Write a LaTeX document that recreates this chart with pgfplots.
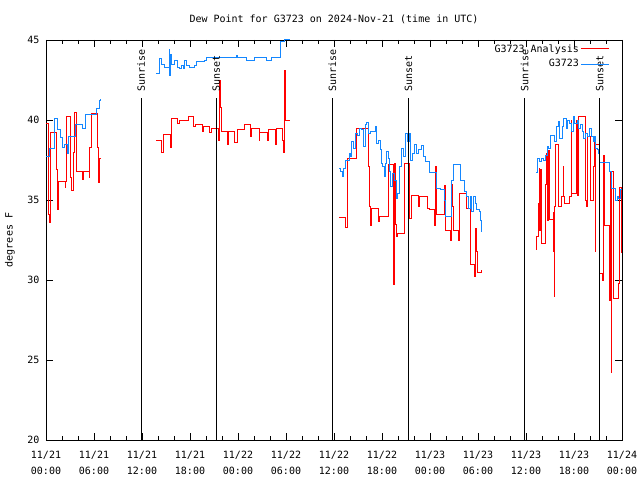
\documentclass[border=0pt]{standalone}
\usepackage{fontspec}
\setmainfont{DejaVu Sans Mono}
\usepackage{pgfplots}
\pgfplotsset{compat=1.18}
\definecolor{gred}{RGB}{255,0,0}
\definecolor{gblue}{RGB}{20,135,255}
\begin{document}
\begin{tikzpicture}[font=\fontsize{10}{12}\selectfont]
\path[use as bounding box] (-46pt,-40pt) rectangle (594pt,440pt);
\begin{axis}[
  scale only axis, width=576pt, height=400pt,
  at={(0pt,0pt)}, anchor=south west,
  xmin=0, xmax=72, ymin=20, ymax=45,
  xtick={0,6,...,72},
  xticklabels={{11/21\\00:00},{11/21\\06:00},{11/21\\12:00},{11/21\\18:00},{11/22\\00:00},{11/22\\06:00},{11/22\\12:00},{11/22\\18:00},{11/23\\00:00},{11/23\\06:00},{11/23\\12:00},{11/23\\18:00},{11/24\\00:00}},
  xticklabel style={align=center, yshift=-8pt, font=\fontsize{10}{16}\selectfont},
  yticklabel style={xshift=-3pt},
  minor x tick num=2,
  ytick={20,25,...,45},
  /pgf/number format/assume math mode=true,
  major tick length=7pt, minor tick length=4pt,
  tick style={black, line width=0.7pt},
  axis line style={line width=0.8pt},
  title={Dew Point for G3723 on 2024-Nov-21 (time in UTC)},
  title style={at={(axis description cs:0.5,1)}, anchor=center, yshift=15pt},
  ylabel={degrees F},
  ylabel style={at={(axis description cs:-0.0625,0.5)}, anchor=center},
  legend style={at={(0.981,0.997)}, anchor=north east, draw=none, fill=none, row sep=2pt, inner sep=1pt},
  legend plot pos=right, legend cell align=right,
  legend image code/.code={\draw[#1] (0pt,0pt) -- (28pt,0pt);},
]
% ---- G3723 Analysis (red), segment 1
\addplot[gred, const plot, line width=1pt] coordinates {
(0.03,39.8) (0.28,34.1) (0.45,33.6) (0.60,39.2) (1.28,36.9) (1.50,34.4) (1.62,36.15)
(2.40,35.8) (2.50,36.15) (2.60,40.2) (3.11,36.4) (3.23,35.6) (3.50,38.0) (3.60,40.5)
(3.80,36.8) (4.55,36.3) (4.65,36.8) (5.40,36.4) (5.50,38.3) (5.74,40.4) (6.40,38.3)
(6.55,36.1) (6.65,37.6) (6.82,37.6)};
\addlegendentry{G3723 Analysis}
% ---- G3723 (blue), segment 1
\addplot[gblue, const plot, line width=1pt] coordinates {
(0.03,37.7) (0.44,38.25) (1.06,40.1) (1.48,39.4) (1.78,38.9) (2.10,38.3) (2.32,38.5)
(2.65,37.9) (2.82,39.0) (3.70,39.7) (4.53,39.5) (4.95,40.35) (6.29,40.7) (6.70,41.25) (6.82,41.3)};
\addlegendentry{G3723}
% ---- red segment 2
\addplot[gred, const plot, line width=1pt, forget plot] coordinates {
(13.80,38.7) (14.50,38.0) (14.71,39.1) (15.55,38.3) (15.65,39.1) (15.75,40.1) (16.50,39.8)
(16.72,40.0) (17.76,40.2) (18.47,39.6) (18.72,39.75) (19.56,39.3) (19.72,39.6) (20.47,39.2)
(20.68,39.5) (21.51,38.75) (21.73,42.5) (21.85,40.8) (21.94,39.3) (22.64,38.5) (22.76,39.3)
(23.60,38.6) (23.89,39.4) (24.85,39.7) (25.57,39.0) (25.70,39.5) (26.65,38.75) (26.73,39.2)
(27.65,38.75) (27.77,39.4) (28.74,38.5) (28.83,39.5) (29.58,38.75) (29.74,38.0) (29.86,43.1)
(29.99,40.0) (30.49,40.0)};
% ---- blue segment 2
\addplot[gblue, const plot, line width=1pt, forget plot] coordinates {
(13.80,42.9) (14.21,43.86) (14.43,43.5) (14.84,43.3) (15.38,44.4) (15.46,42.8) (15.55,44.1)
(15.68,43.5) (16.09,43.75) (16.38,43.3) (16.63,43.2) (16.93,43.4) (17.13,43.2) (17.34,43.75)
(17.56,43.4) (17.88,43.3) (18.60,43.4) (18.81,43.65) (19.85,43.75) (20.06,43.9) (23.82,44.0)
(23.98,43.9) (25.07,43.7) (26.11,43.9) (27.57,43.7) (28.20,43.9) (29.33,44.9) (29.86,45.0) (30.49,45.0)};
% ---- red segment 3
\addplot[gred, const plot, line width=1pt, forget plot] coordinates {
(36.63,33.9) (37.47,33.3) (37.67,37.6) (38.76,39.5) (40.30,37.1) (40.42,34.6) (40.55,33.4)
(40.75,34.5) (41.55,33.65) (41.67,34.0) (42.80,37.2) (43.43,29.7) (43.51,37.3) (43.64,33.5)
(43.76,32.7) (43.93,32.9) (44.77,37.3) (45.39,33.85) (45.73,35.3) (46.56,34.6) (46.68,35.2)
(47.68,34.5) (47.93,34.4) (48.52,33.4) (48.65,35.2) (48.73,37.1) (48.77,34.1) (49.77,35.9)
(49.90,33.75) (49.99,33.1) (50.53,32.5) (50.65,36.0) (50.81,34.6) (50.94,33.1) (51.57,32.5)
(51.69,35.4) (52.53,35.0) (52.62,34.5) (53.03,33.65) (53.12,31.0) (53.57,30.2) (53.66,33.2)
(53.78,31.8) (53.95,30.5) (54.50,30.6)};
% ---- blue segment 3
\addplot[gblue, const plot, line width=1pt, forget plot] coordinates {
(36.63,36.98) (36.84,36.77) (37.04,36.46) (37.25,36.98) (37.50,37.5) (37.92,37.92) (38.09,37.71)
(38.22,38.65) (38.42,38.23) (38.63,39.17) (38.92,39.06) (39.17,39.48) (39.47,39.38) (39.67,38.33)
(39.88,39.69) (40.10,39.83) (40.30,39.17) (40.51,39.27) (41.14,39.58) (41.35,38.54) (41.55,38.75)
(41.76,38.13) (41.89,37.29) (42.10,37.08) (42.26,36.46) (42.39,37.29) (42.60,38.02) (42.80,37.6)
(42.93,36.77) (43.10,35.83) (43.35,36.67) (43.51,36.25) (43.76,35.1) (43.93,35.42) (44.18,37.08)
(44.48,38.23) (44.68,37.71) (44.89,39.17) (45.18,38.65) (45.39,39.17) (45.61,37.5) (45.86,37.92)
(46.02,38.44) (46.36,37.92) (46.56,38.13) (46.98,38.38) (47.18,37.71) (47.40,37.4) (47.93,36.71)
(48.77,35.73) (49.36,35.63) (49.77,35.0) (49.90,33.96) (50.74,36.25) (50.94,37.25) (51.78,36.21)
(52.28,35.52) (52.62,35.21) (52.82,34.48) (53.03,35.21) (53.24,34.27) (53.44,35.21) (53.66,34.79)
(53.87,34.38) (54.20,34.27) (54.37,33.75) (54.50,33.02)};
% ---- red segment 4
\addplot[gred, const plot, line width=1pt, forget plot] coordinates {
(61.30,31.9) (61.33,32.75) (61.58,34.8) (61.63,37.0) (61.71,33.1) (61.80,36.9) (61.88,32.3)
(62.38,33.1) (62.46,36.0) (62.55,37.9) (62.71,33.75) (62.84,38.1) (62.96,33.8) (63.39,34.2)
(63.46,31.8) (63.55,29.0) (63.59,34.6) (63.67,38.5) (64.05,34.6) (64.46,35.2) (64.64,37.1)
(64.71,35.2) (64.80,34.8) (65.46,35.2) (65.64,40.0) (65.72,35.4) (66.31,40.0) (66.47,35.3)
(66.59,40.25) (67.43,35.0) (67.56,34.6) (67.64,39.0) (68.06,35.0) (68.47,37.1) (68.56,39.0)
(68.65,31.8) (68.68,38.5) (69.18,34.6) (69.22,30.4) (69.60,30.0) (69.65,37.8) (69.81,33.4)
(70.44,28.75) (70.56,36.8) (70.65,24.2) (70.69,36.8) (70.90,30.8) (70.98,28.85) (71.56,29.8)
(71.65,35.8) (71.90,31.7) (72.00,31.7)};
% ---- blue segment 4
\addplot[gblue, const plot, line width=1pt, forget plot] coordinates {
(61.30,36.71) (61.46,37.6) (61.71,37.4) (61.88,37.6) (62.21,37.5) (62.42,37.81) (62.64,38.33)
(62.84,38.23) (63.05,39.06) (63.55,38.65) (63.80,39.58) (64.09,39.9) (64.21,38.85) (64.51,39.58)
(64.64,40.1) (65.05,39.48) (65.21,40.0) (65.46,39.79) (65.64,39.27) (65.89,40.21) (66.05,39.79)
(66.39,40.0) (66.59,39.48) (66.80,39.69) (67.02,39.27) (67.22,38.85) (67.43,39.17) (67.72,38.96)
(67.97,39.48) (68.15,38.96) (68.40,38.65) (68.56,38.96) (68.68,38.23) (68.90,38.13) (69.10,37.92)
(69.22,37.33) (70.47,36.77) (70.65,35.73) (71.19,35.0) (71.40,35.21) (71.60,35.1) (71.81,35.63) (72.00,35.63)};
% ---- sunrise / sunset markers
\addplot[black, line width=0.8pt, forget plot] coordinates {(11.90,20) (11.90,41.35)};
\addplot[black, line width=0.8pt, forget plot] coordinates {(21.29,20) (21.29,41.35)};
\addplot[black, line width=0.8pt, forget plot] coordinates {(35.80,20) (35.80,41.35)};
\addplot[black, line width=0.8pt, forget plot] coordinates {(45.31,20) (45.31,41.35)};
\addplot[black, line width=0.8pt, forget plot] coordinates {(59.83,20) (59.83,41.35)};
\addplot[black, line width=0.8pt, forget plot] coordinates {(69.22,20) (69.22,41.35)};
\node[rotate=90, anchor=west, inner sep=1pt] at (axis cs:11.90,41.7) {Sunrise};
\node[rotate=90, anchor=west, inner sep=1pt] at (axis cs:21.29,41.7) {Sunset};
\node[rotate=90, anchor=west, inner sep=1pt] at (axis cs:35.80,41.7) {Sunrise};
\node[rotate=90, anchor=west, inner sep=1pt] at (axis cs:45.31,41.7) {Sunset};
\node[rotate=90, anchor=west, inner sep=1pt] at (axis cs:59.83,41.7) {Sunrise};
\node[rotate=90, anchor=west, inner sep=1pt] at (axis cs:69.22,41.7) {Sunset};
\end{axis}
\end{tikzpicture}
\end{document}
